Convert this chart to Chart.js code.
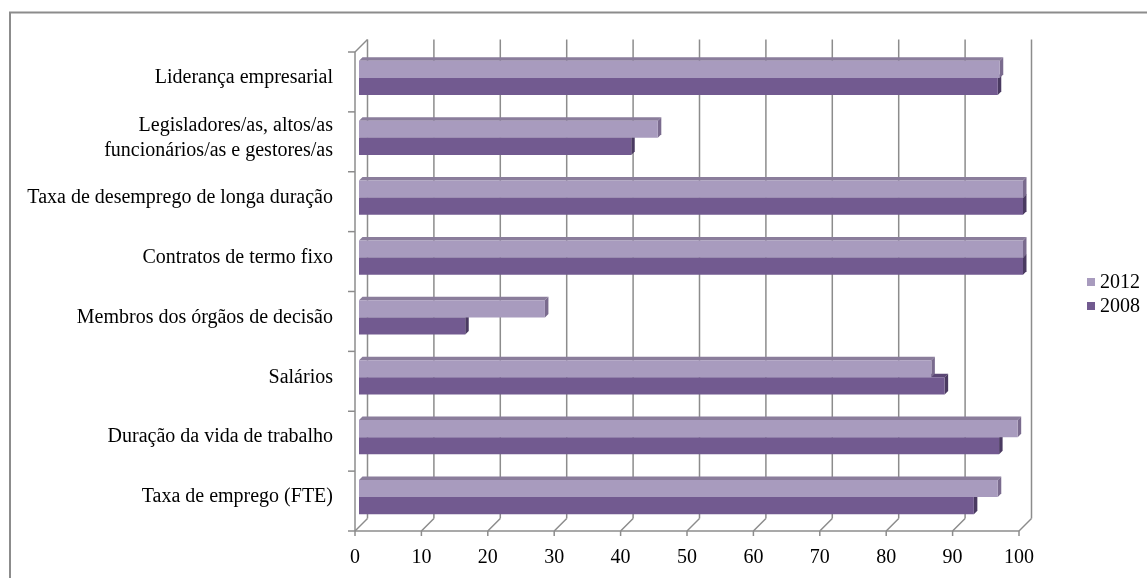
<!DOCTYPE html>
<html lang="pt">
<head>
<meta charset="utf-8">
<title>Indicadores de igualdade no emprego, 2008 e 2012</title>
<script src="https://cdn.jsdelivr.net/npm/chart.js@4.4.1/dist/chart.umd.min.js"></script>
<style>
  html, body { margin: 0; padding: 0; background: #fff; }
  #wrap { width: 1147px; height: 578px; }
</style>
</head>
<body>
<div id="wrap"><canvas id="chart" width="1147" height="578"></canvas></div>
<script>
// Categories, listed top to bottom
const categories = [
  'Liderança empresarial',
  ['Legisladores/as, altos/as', 'funcionários/as e gestores/as'],
  'Taxa de desemprego de longa duração',
  'Contratos de termo fixo',
  'Membros dos órgãos de decisão',
  'Salários',
  'Duração da vida de trabalho',
  'Taxa de emprego (FTE)'
];

const values2012 = [96.5, 45, 100, 100, 28, 86.2, 99.2, 96.2];
const values2008 = [96.2, 41, 100, 100, 16, 88.2, 96.4, 92.6];

const seriesLabels = ['2012', '2008'];
const xTickValues = [0, 10, 20, 30, 40, 50, 60, 70, 80, 90, 100];

// Styling
const FONT = { family: "'Liberation Serif', 'Times New Roman', serif", size: 20, lineHeight: 1.25 };
const FRONT_COLORS = ['#A89BBE', '#725A90'];
const TOP_COLORS   = ['#8A7D9B', '#5B4775'];
const SIDE_COLORS  = ['#7A6B8E', '#4A3A61'];
const WALL_COLOR = '#8C8C8C';

// Pseudo-3D geometry: the bars sit on a middle plane; the axes lie on a
// front plane and the gridlines on a back wall.
const FRONT = 4;     // front plane offset (left / down)
const BACK = 8.5;    // back wall offset (right / up)
const BAR_DEPTH = 3.5;

function line(ctx, x1, y1, x2, y2) {
  ctx.beginPath();
  ctx.moveTo(x1, y1);
  ctx.lineTo(x2, y2);
  ctx.stroke();
}
function poly(ctx, pts, color) {
  ctx.beginPath();
  ctx.moveTo(pts[0][0], pts[0][1]);
  for (let i = 1; i < pts.length; i++) ctx.lineTo(pts[i][0], pts[i][1]);
  ctx.closePath();
  ctx.fillStyle = color;
  ctx.fill();
}

const framePlugin = {
  id: 'frame',
  beforeDraw(chart) {
    const ctx = chart.ctx;
    ctx.save();
    ctx.strokeStyle = WALL_COLOR;
    ctx.lineWidth = 2;
    ctx.strokeRect(10, 12.5, chart.width + 20, chart.height + 20);
    ctx.restore();
  },
  beforeDatasetsDraw(chart) {
    const { ctx, chartArea: a, scales: { x, y } } = chart;
    ctx.save();
    ctx.strokeStyle = WALL_COLOR;
    ctx.lineWidth = 1.5;

    // back wall gridlines, floor edges and tick marks
    xTickValues.forEach(v => {
      const px = x.getPixelForValue(v);
      line(ctx, px + BACK, a.top - BACK, px + BACK, a.bottom - BACK);
      line(ctx, px - FRONT, a.bottom + FRONT, px + BACK, a.bottom - BACK);
      line(ctx, px - FRONT, a.bottom + FRONT, px - FRONT, a.bottom + FRONT + 5);
    });

    // front axes
    line(ctx, x.getPixelForValue(0) - FRONT, a.bottom + FRONT, x.getPixelForValue(100) - FRONT, a.bottom + FRONT);
    line(ctx, a.left - FRONT, a.top + FRONT, a.left - FRONT, a.bottom + FRONT);
    line(ctx, a.left - FRONT, a.top + FRONT, a.left + BACK, a.top - BACK);

    // category separators on the vertical axis
    const n = categories.length;
    for (let i = 0; i <= n; i++) {
      const yy = a.top + i * (a.height / n) + FRONT;
      line(ctx, a.left - FRONT - 7, yy, a.left - FRONT, yy);
    }

    // bar depth: top and end faces (lower series first)
    for (let d = chart.data.datasets.length - 1; d >= 0; d--) {
      const meta = chart.getDatasetMeta(d);
      meta.data.forEach(bar => {
        const p = bar.getProps(['x', 'y', 'base', 'height'], true);
        const top = p.y - p.height / 2;
        const bottom = p.y + p.height / 2;
        const k = BAR_DEPTH;
        poly(ctx, [[p.base, top], [p.x, top], [p.x + k, top - k], [p.base + k, top - k]], TOP_COLORS[d]);
        poly(ctx, [[p.x, top], [p.x + k, top - k], [p.x + k, bottom - k], [p.x, bottom]], SIDE_COLORS[d]);
      });
    }
    ctx.restore();
  },
  afterDraw(chart) {
    // legend on the right
    const ctx = chart.ctx;
    ctx.save();
    ctx.font = FONT.size + 'px ' + FONT.family;
    ctx.textBaseline = 'middle';
    ctx.textAlign = 'left';
    chart.data.datasets.forEach((ds, i) => {
      const cy = 282 + i * 24;
      ctx.fillStyle = ds.backgroundColor;
      ctx.fillRect(1087, cy - 4, 8, 8);
      ctx.fillStyle = '#000';
      ctx.fillText(ds.label, 1100, cy + 1);
    });
    ctx.restore();
  }
};

new Chart(document.getElementById('chart'), {
  type: 'bar',
  data: {
    labels: categories,
    datasets: [
      { label: seriesLabels[0], data: values2012, backgroundColor: FRONT_COLORS[0], borderWidth: 0 },
      { label: seriesLabels[1], data: values2008, backgroundColor: FRONT_COLORS[1], borderWidth: 0 }
    ]
  },
  options: {
    indexAxis: 'y',
    responsive: false,
    animation: false,
    events: [],
    categoryPercentage: 0.57,
    barPercentage: 1.0,
    layout: { padding: { top: 48, right: 124, bottom: 0, left: 0 } },
    plugins: {
      legend: { display: false },
      tooltip: { enabled: false }
    },
    scales: {
      x: {
        min: 0,
        max: 100,
        afterFit(s) { s.height = 51; },
        afterBuildTicks(s) { s.ticks = xTickValues.map(v => ({ value: v })); },
        grid: { display: false, drawTicks: false },
        border: { display: false },
        ticks: {
          padding: 18,
          labelOffset: -FRONT,
          maxRotation: 0,
          autoSkip: false,
          color: '#000',
          font: FONT
        }
      },
      y: {
        afterFit(s) { s.width = 359; },
        grid: { display: false, drawTicks: false },
        border: { display: false },
        ticks: {
          padding: 26,
          color: '#000',
          font: FONT
        }
      }
    }
  },
  plugins: [framePlugin]
});
</script>
</body>
</html>
